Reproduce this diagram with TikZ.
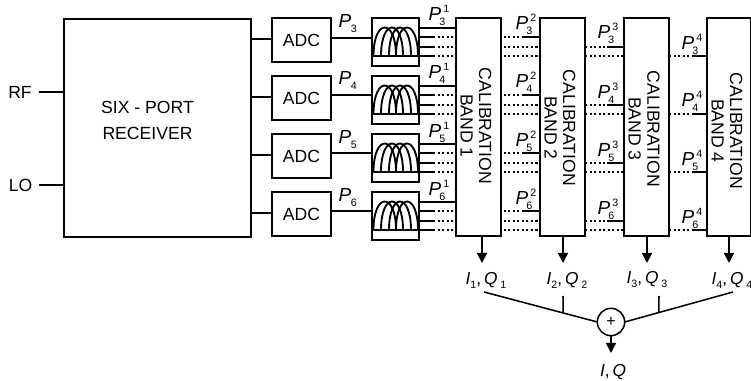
\documentclass[tikz,border=0pt]{standalone}
\usepackage{fontspec}
\setmainfont{Liberation Sans}
\usetikzlibrary{arrows.meta,calc}
\newcommand\PL[2]{\textit{P}\rlap{\hspace{-1.5pt}\smash{\raisebox{-3.9pt}{\fontsize{8}{8}\selectfont #1}}}\rlap{\hspace{1.5pt}\smash{\raisebox{6.2pt}{\fontsize{8}{8}\selectfont #2}}}}
\newcommand\PA[1]{\textit{P}\rlap{\hspace{-.4pt}\smash{\raisebox{-3.9pt}{\fontsize{8}{8}\selectfont #1}}}}
\newcommand\IQ[1]{\textit{I}\raisebox{-3pt}{\fontsize{8}{8}\selectfont #1},\,\textit{Q}\,\raisebox{-3pt}{\fontsize{8}{8}\selectfont #1}}
\tikzset{
  x=0.75pt,y=-0.75pt,
  box/.style={draw=black,line width=1.15pt,rectangle,inner sep=0pt,outer sep=0pt,fill=white},
  wire/.style={draw=black,line width=1.15pt},
  dots/.style={draw=black,line width=1.9pt,dash pattern=on 1.6pt off 1.8pt},
  coil/.style={draw=black,line width=1.4pt},
  txt/.style={inner sep=0pt,outer sep=0pt,font=\fontsize{13.2}{14}\selectfont},
  plab/.style={inner sep=0pt,outer sep=0pt,font=\fontsize{14.2}{15}\selectfont},
  iq/.style={inner sep=0pt,outer sep=0pt,font=\fontsize{13}{15}\selectfont},
  arr/.style={draw=black,line width=1.15pt,-{Triangle[length=7.5pt,width=7.5pt]}},
}
\begin{document}
\begin{tikzpicture}
\useasboundingbox (0,0) rectangle (751,381);
% six-port
\node[box,minimum width=140.25pt,minimum height=163.5pt] (six) at (157.5,128) {};
\node[txt,align=center] (sixt) at (147.5,120) {SIX - PORT\\[5.5pt]RECEIVER};
\node[txt] (rf) at (20,92) {RF};
\node[txt] (lo) at (20.5,185) {LO};
\coordinate (rfs) at (39,92);
\coordinate (los) at (39,185);
\draw[wire] (rfs) -- (six.west |- rfs);
\draw[wire] (los) -- (six.west |- los);
% four channels
\foreach \i/\top/\pn/\a/\f/\pny in {1/18/3/38/14/21, 2/76/4/95/72/78, 3/134/5/153/131/137, 4/192/6/211/189/195}{
  \node[box,minimum width=44.25pt,minimum height=33pt,anchor=north west] (adc\i) at (272,\top) {};
  \node[txt] (adct\i) at (301.5,\top+22) {ADC};
  \draw[wire] (six.east |- 0,\top+21) -- (adc\i.west |- 0,\top+21);
  \node[box,minimum width=35.25pt,minimum height=36pt,anchor=north west] (flt\i) at (372,\top) {};
  \draw[wire] (adc\i.east |- 0,\a) -- (flt\i.west |- 0,\a);
  \node[plab] (pa\i) at (345,\pny) {\PA{\pn}};
  \node[plab] (pb\i) at (435,\f) {\PL{\pn}{1}};
  % inner coil base
  \coordinate (bl\i) at (372,\top+38);
  \coordinate (br\i) at (419,\top+38);
  \draw[wire] (bl\i) -- (br\i);
  \foreach \xa/\xb in {373.5/396, 381/403, 389/411, 396/418}{
    \draw[coil] (\xa,\top+38) .. controls (\xa,\top) and (\xb,\top) .. (\xb,\top+38);
  }
  % taps
  \coordinate (t\i a) at (419,\top+10);
  \coordinate (t\i b) at (435,\top+19);
  \coordinate (t\i c) at (435,\top+29);
  \coordinate (t\i d) at (435,\top+38);
}
% calibration boxes
\foreach \i/\x/\w/\tx/\ty in {1/456/45/476/126, 2/540/45/560/128, 3/624/45/644/129, 4/707/44/727/131}{
  \node[box,minimum width=\w*0.75pt,minimum height=163.5pt,anchor=north west] (cal\i) at (\x,18) {};
  \node[txt,rotate=-90,align=center] (calt\i) at (\tx,\ty) {CALIBRATION\\BAND \i};
}
% filter to band 1
\foreach \i/\top in {1/18,2/76,3/134,4/192}{
  \draw[wire] (flt\i.east |- t\i a) -- (cal1.west |- t\i a);
  \foreach \d/\o in {b/19,c/29,d/38}{
    \draw[wire] (flt\i.east |- t\i\d) -- (t\i\d);
    \draw[dots] (t\i\d) ++(2pt,0) -- (cal1.west |- t\i\d);
  }
  % band 1 to 2
  \coordinate (u\i) at (522,\top+19);
  \draw[dots] (cal1.east |- u\i) ++(2pt,0) -- (u\i);
  \draw[wire] (u\i) -- (cal2.west |- u\i);
  \draw[dots] (cal1.east |- 0,\top+29) ++(2pt,0) -- (cal2.west |- 0,\top+29);
  \draw[dots] (cal1.east |- 0,\top+38) ++(2pt,0) -- (cal2.west |- 0,\top+38);
  % band 2 to 3
  \coordinate (v\i) at (607,\top+29);
  \draw[dots] (cal2.east |- v\i) -- (v\i);
  \draw[wire] (v\i) -- (cal3.west |- v\i);
  \draw[dots] (cal2.east |- 0,\top+38) -- (cal3.west |- 0,\top+38);
  % band 3 to 4
  \coordinate (w\i) at (693,\top+38);
  \draw[dots] (cal3.east |- w\i) -- (w\i);
  \draw[wire] (w\i) -- (cal4.west |- w\i);
}
% P labels
\foreach \n/\yb/\yc/\yd [count=\k] in {3/23/32/43, 4/81/92/100, 5/140/150/159, 6/198/208/217}{
  \node[plab] (pc\k) at (522,\yb) {\PL{\n}{2}};
  \node[plab] (pd\k) at (604,\yc) {\PL{\n}{3}};
  \node[plab] (pe\k) at (688,\yd) {\PL{\n}{4}};
}
% outputs
\foreach \i/\x/\lx in {1/482/486,2/563/567,3/647/647,4/729/732}{
  \node[iq] (iq\i) at (\lx,280) {\IQ{\i}};
  \coordinate (o\i) at (\x,263);
  \draw[arr] (cal\i.south -| o\i) -- (o\i);
}
% summer
\node[draw=black,line width=1.15pt,circle,minimum size=20.5pt,inner sep=0pt,outer sep=0pt] (sum) at (611,322) {\fontsize{12}{12}\selectfont +};
\coordinate (la) at (484,292);
\coordinate (ra) at (733,292);
\draw[wire] (la) -- (sum.west);
\draw[wire] (ra) -- (sum.east);
\coordinate (ta) at (563,296);
\coordinate (tb) at (659,296);
\draw[wire] (ta) -- ($(la)!0.699!(sum.west)$);
\draw[wire] (tb) -- ($(ra)!0.685!(sum.east)$);
\node[iq] (iqout) at (613,372) {\textit{I},\,\textit{Q}};
\coordinate (oo) at (611,353);
\draw[arr] (sum.south) -- (oo);
\end{tikzpicture}
\end{document}
